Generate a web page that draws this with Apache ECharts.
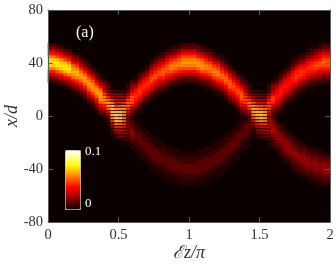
<!DOCTYPE html>
<html><head><meta charset="utf-8">
<style>html,body{margin:0;padding:0;background:#fff}#c{width:336px;height:266px}</style>
<script src="https://cdn.jsdelivr.net/npm/echarts@6/dist/echarts.min.js"></script>
</head><body><div id="c"></div>
<script>
// Intensity levels: letter a = 0, each next letter = +0.004 (z = 0.1)
const levelStep = 0.004;
const columnCount = 72, fineRowCount = 140;
const xTicks = ['0','0.5','1','1.5','2'];
const yTicks = ['80','40','0','-40','-80'];
const colorbarTicks = ['0.1','0'];
// Upper branch: first coarse row (2 fine rows each) per column, then the values going down that column
const upperStart = [10,10,10,11,11,12,13,13,14,15,17,18,19,21,22,23,0,0,0,0,23,22,21,19,18,17,15,14,13,13,12,11,11,10,10,10,
 10,10,10,11,11,12,13,13,14,15,17,18,19,21,22,23,0,0,0,0,23,22,21,19,18,17,15,14,13,13,12,11,11,10,10,10];
const upperCells = ["acehkorsrokheca","acehkorsrokheca","abdfjmqssqmjfdba","acehkorsrokheca","abdfjmqssqmjfdba","acehkorsrokheca",
 "acegjnpqpnjgeca","abdfiloqqolifdba","abdehknppnkhedba","abdehknppnkhedba","acdgjmopomjgdca","acdgjmopomjgdca",
 "abdehknppnkhedba","acegjnpqpnjgeca","acegjnpqpnjgeca","abdfiloqqolifdba","","","","",
 "abcehkmoomkhecba","acdfilnonlifdca","abcegjklkjgecba","abcdfikllkifdcba","abcegjklkjgecba","abcegjklkjgecba",
 "abcegikmmkigecba","abcegikmmkigecba","abcegikmmkigecba","acdfikmnmkifdca","acdfikmnmkifdca","abcehkmoomkhecba",
 "acdfilnonlifdca","abcehkmoomkhecba","acdgjmopomjgdca","acdgjmopomjgdca",
 "acdgjmopomjgdca","acdgjmopomjgdca","abdehknppnkhedba","acdgjmopomjgdca","abcehkmoomkhecba","acdfilnonlifdca",
 "acdfilnonlifdca","abcehkmoomkhecba","abcegjlnnljgecba","abcegjlnnljgecba","acdfikmnmkifdca","abdfhjlmljhfdba",
 "abcegikmmkigecba","acdfikmnmkifdca","acdfikmnmkifdca","abcegjlnnljgecba","","","","",
 "abcegikmmkigecba","abdfhjlmljhfdba","abcegijkjigecba","abcdfhjkkjhfdcba","abcegijkjigecba","abcegijkjigecba",
 "abcdfhjkkjhfdcba","abcdfikllkifdcba","abcdfikllkifdcba","abcegjklkjgecba","abcegjklkjgecba","abcdfikllkifdcba",
 "abdfhjlmljhfdba","abcegikmmkigecba","acdfikmnmkifdca","acdfikmnmkifdca"];
// Lower branch, same layout; it only exists to the right of the first crossing
const lowerStart = [0,0,0,0,0,0,0,0,0,0,0,0,0,0,0,0,0,0,0,0,31,33,34,35,37,38,39,40,41,42,43,43,44,44,45,45,
 45,45,44,44,43,43,42,41,40,39,38,37,35,34,33,31,0,0,0,0,31,33,34,35,37,38,39,40,41,42,43,43,44,44,45,45];
const lowerCells = ["","","","","","","","","","","","","","","","","","","","",
 "aabbbcddddcbbbaa","aabbccdddccbbaa","aabbccdddccbbaa","aabbbcddddcbbbaa","aabbccdddccbbaa","aabbccdddccbbaa",
 "aabbbcddddcbbbaa","aabbbcddddcbbbaa","aabbbcddddcbbbaa","aabbccdddccbbaa","aabbccdddccbbaa","aabbbcddddcbbbaa",
 "aabbccdddccbbaa","aabbbcddddcbbbaa","aabbccdddccbbaa","aabbccdddccbbaa",
 "aabbccdddccbbaa","aabbccdddccbbaa","aabbbcddddcbbbaa","aabbccdddccbbaa","aabbbcddddcbbbaa","aabbccdddccbbaa",
 "aabbccdddccbbaa","aabbbcddddcbbbaa","aabbbcddddcbbbaa","aabbbcddddcbbbaa","aabbccdddccbbaa","aabbccdddccbbaa",
 "aabbbcddddcbbbaa","aabbccdddccbbaa","aabbccdddccbbaa","aabbbcddddcbbbaa","","","","",
 "aabccdeffedccbaa","aabcdefffedcbaa","aabcdefffedcbaa","aabccdeffedccbaa","aabcdefffedcbaa","aabcdefffedcbaa",
 "aabccdeffedccbaa","aabccdeffedccbaa","aabccdeffedccbaa","aabcdefffedcbaa","aabcdefffedcbaa","aabccdeffedccbaa",
 "aabcdefffedcbaa","aabccdeffedccbaa","aabcdefffedcbaa","aabcdefffedcbaa"];
// Striped crossing zones, one value per fine row starting at fringeTop
const fringeTop = 52;
const fringeColumns = {
 14:"fihmjplqlpjlhieeccbbaaaaaaaaaaaaaaaa",15:"bddhelgoiririogkegcdbcabaaaaaaaaaaaa",
 16:"adbfcicmdqeufwfwfueqdmcibfbdacabaaaa",17:"acaeagbickdnerfugzhygtepdldicfbdabaa",
 18:"acaeahbjblcodrduexewesdoclcjbgbeacab",19:"acaebgbjcmcpdrdrdqcpcocmckbibgaeacab",
 20:"bdcgejgmhohogmekdhcfcfdfdfdfcecdbcab",21:"ehhkjnkoknikfhdfcdbcbccddddefefeecdc",
 50:"egfkhminimhjfgdeccbbbbccddddddddccbb",51:"bdcfdjfmhphpgmfidfcdcdcddddcccccbbba",
 52:"acaebgcjdneqfsfseqdncjcgbebcababaaaa",53:"acadbfbhckdoerftfterdockbhbfadacabaa",
 54:"abadafbhckdneqftgvfueqdmcjbgbeadabaa",55:"abacbebgcjdmdpereserdpcmcjbhbfadaca",
 56:"accfeigkhmhngmekdidhdhehehegdfcebcab",57:"eggijllmklhjfgdecdcddeeffgghggefcdcc"};
const hotColors = ['#0b0000','#600000','#b50000','#ff0000','#ff5500','#ffaa00','#ffff00','#ffff80','#ffffff'];

const level = ch => (ch.charCodeAt(0) - 97) * levelStep;
const grid = [];
for (let k = 0; k < columnCount; k++) {
  const col = new Array(fineRowCount).fill(0);
  [[upperStart, upperCells], [lowerStart, lowerCells]].forEach(([st, cells]) => {
    [...cells[k]].forEach((ch, i) => {
      const r = st[k] + i;
      col[2 * r] += level(ch); col[2 * r + 1] += level(ch);
    });
  });
  if (fringeColumns[k]) [...fringeColumns[k]].forEach((ch, i) => { col[fringeTop + i] = level(ch); });
  grid.push(col);
}
const cellData = [];
grid.forEach((col, k) => col.forEach((v, f) => { if (v > 0) cellData.push([k, f, v]); }));

const textColor = '#333', lineColor = '#5a5a5a', serif = '"Liberation Serif","Times New Roman",serif';
const rect = {left: 48, top: 10, width: 282, height: 212, outerBoundsMode: 'none'};
const tick = {show: true, inside: true, length: 5, lineStyle: {color: lineColor, width: 1}};
const line = {show: true, onZero: false, lineStyle: {color: lineColor, width: 1}};
const label = {color: textColor, fontFamily: serif, fontSize: 14.5};

const chart = echarts.init(document.getElementById('c'), null, {renderer: 'canvas'});
chart.setOption({
  animation: false,
  backgroundColor: '#fff',
  grid: [Object.assign({show: true, backgroundColor: '#0b0000', borderWidth: 0}, rect), Object.assign({}, rect)],
  xAxis: [
    {type: 'category', gridIndex: 0, show: false, data: grid.map((_, i) => i)},
    {type: 'value', gridIndex: 1, position: 'bottom', min: 0, max: 2, interval: 0.5, z: 10, splitLine: {show: false},
     axisLine: line, axisTick: tick,
     axisLabel: Object.assign({margin: 6, formatter: v => xTicks[Math.round(v / 0.5)]}, label),
     name: 'ℰz/π', nameLocation: 'middle', nameGap: 22, nameMoveOverlap: false,
     nameTextStyle: {color: textColor, fontFamily: serif, fontStyle: 'italic', fontSize: 18}},
    {type: 'value', gridIndex: 1, position: 'top', min: 0, max: 2, interval: 0.5, z: 10, splitLine: {show: false},
     axisLine: line, axisTick: tick, axisLabel: {show: false}}
  ],
  yAxis: [
    {type: 'category', gridIndex: 0, show: false, inverse: true, data: new Array(fineRowCount).fill(0).map((_, i) => i)},
    {type: 'value', gridIndex: 1, position: 'left', min: -80, max: 80, interval: 40, z: 10, splitLine: {show: false},
     axisLine: line, axisTick: tick,
     axisLabel: Object.assign({margin: 5, formatter: v => yTicks[Math.round((80 - v) / 40)]}, label),
     name: 'x/d', nameLocation: 'middle', nameRotate: 90, nameGap: 27, nameMoveOverlap: false,
     nameTextStyle: {color: textColor, fontFamily: serif, fontStyle: 'italic', fontSize: 18}},
    {type: 'value', gridIndex: 1, position: 'right', min: -80, max: 80, interval: 40, z: 10, splitLine: {show: false},
     axisLine: line, axisTick: tick, axisLabel: {show: false}}
  ],
  visualMap: {
    type: 'continuous', seriesIndex: 0, dimension: 2, min: 0, max: 0.1, calculable: false,
    orient: 'vertical', left: 65, top: 150, itemWidth: 15, itemHeight: 59, padding: 0, text: null,
    showLabel: false, borderColor: '#b0b0b0', borderWidth: 1, inRange: {color: hotColors}
  },
  series: [{type: 'heatmap', xAxisIndex: 0, yAxisIndex: 0, data: cellData, progressive: 0, animation: false}],
  graphic: [
    {type: 'text', left: 76, top: 25, z: 100, style: {text: '(a)', fill: '#fff', font: '16px ' + serif}},
    {type: 'text', left: 85, top: 145, z: 100, style: {text: colorbarTicks[0], fill: '#fff', font: '13px ' + serif}},
    {type: 'text', left: 85, top: 197, z: 100, style: {text: colorbarTicks[1], fill: '#fff', font: '13px ' + serif}}
  ]
});
</script></body></html>
